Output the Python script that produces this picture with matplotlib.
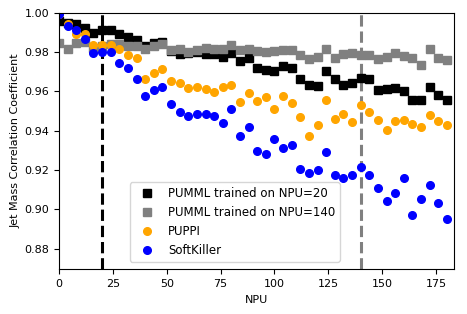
import matplotlib
matplotlib.use("Agg")
import matplotlib.pyplot as plt
import numpy as np

npu = np.arange(0, 184, 4)

pumml_20 = [0.9957, 0.9945, 0.9940, 0.9924, 0.9898, 0.9910, 0.9910, 0.9889, 0.9878, 0.9860,
            0.9830, 0.9844, 0.9850, 0.9805, 0.9791, 0.9796, 0.9798, 0.9787, 0.9787, 0.9776,
            0.9796, 0.9753, 0.9771, 0.9720, 0.9708, 0.9702, 0.9728, 0.9716, 0.9660, 0.9634,
            0.9629, 0.9702, 0.9660, 0.9631, 0.9643, 0.9665, 0.9660, 0.9605, 0.9609, 0.9618,
            0.9600, 0.9554, 0.9554, 0.9623, 0.9580, 0.9554]
pumml_140 = [0.9847, 0.9816, 0.9847, 0.9852, 0.9822, 0.9830, 0.9838, 0.9838, 0.9830, 0.9830,
             0.9813, 0.9830, 0.9838, 0.9808, 0.9816, 0.9799, 0.9808, 0.9822, 0.9813, 0.9816,
             0.9833, 0.9808, 0.9816, 0.9804, 0.9799, 0.9804, 0.9810, 0.9810, 0.9786, 0.9762,
             0.9776, 0.9813, 0.9771, 0.9787, 0.9793, 0.9782, 0.9784, 0.9762, 0.9776, 0.9796,
             0.9779, 0.9771, 0.9731, 0.9813, 0.9771, 0.9757]
puppi = [0.9991, 0.9940, 0.9889, 0.9889, 0.9835, 0.9835, 0.9835, 0.9816, 0.9782, 0.9767,
         0.9660, 0.9694, 0.9715, 0.9651, 0.9643, 0.9618, 0.9623, 0.9613, 0.9595, 0.9623,
         0.9631, 0.9546, 0.9589, 0.9549, 0.9572, 0.9512, 0.9575, 0.9541, 0.9470, 0.9371,
         0.9427, 0.9553, 0.9460, 0.9482, 0.9444, 0.9529, 0.9495, 0.9456, 0.9402, 0.9447,
         0.9456, 0.9434, 0.9419, 0.9478, 0.9451, 0.9427]
softkiller = [0.9991, 0.9932, 0.9910, 0.9864, 0.9793, 0.9799, 0.9799, 0.9742, 0.9716, 0.9660,
              0.9578, 0.9604, 0.9621, 0.9533, 0.9493, 0.9476, 0.9482, 0.9485, 0.9473, 0.9439,
              0.9511, 0.9371, 0.9417, 0.9297, 0.9283, 0.9358, 0.9312, 0.9329, 0.9205, 0.9184,
              0.9201, 0.9289, 0.9176, 0.9159, 0.9176, 0.9215, 0.9174, 0.9108, 0.9040, 0.9082,
              0.9157, 0.8970, 0.9052, 0.9125, 0.9033, 0.8953]
train_npu = [20, 140]

fig = plt.figure(figsize=(4.67, 3.14), dpi=100)
ax = fig.add_axes([0.1263, 0.1424, 0.8459, 0.8176])

ax.axvline(train_npu[0], color="black", linestyle="--", linewidth=2.2)
ax.axvline(train_npu[1], color="gray", linestyle="--", linewidth=2.2)

ax.plot(npu, pumml_20, "s", color="black", ms=5.5, label="PUMML trained on NPU=20")
ax.plot(npu, pumml_140, "s", color="gray", ms=5.5, label="PUMML trained on NPU=140")
ax.plot(npu, puppi, "o", color="orange", ms=5.5, label="PUPPI")
ax.plot(npu, softkiller, "o", color="blue", ms=5.5, label="SoftKiller")

ax.set_xlim(0, 183.3)
ax.set_ylim(0.8695, 1.0)
ax.set_xticks([0, 25, 50, 75, 100, 125, 150, 175])
ax.set_yticks([0.88, 0.90, 0.92, 0.94, 0.96, 0.98, 1.00])
ax.tick_params(labelsize=8)
ax.set_xlabel("NPU", fontsize=8)
ax.set_ylabel("Jet Mass Correlation Coefficient", fontsize=8, labelpad=3)

ax.legend(loc="lower left", bbox_to_anchor=(0.18, 0.03), borderaxespad=0, fontsize=8.5)

fig.savefig("out.png", dpi=100)
